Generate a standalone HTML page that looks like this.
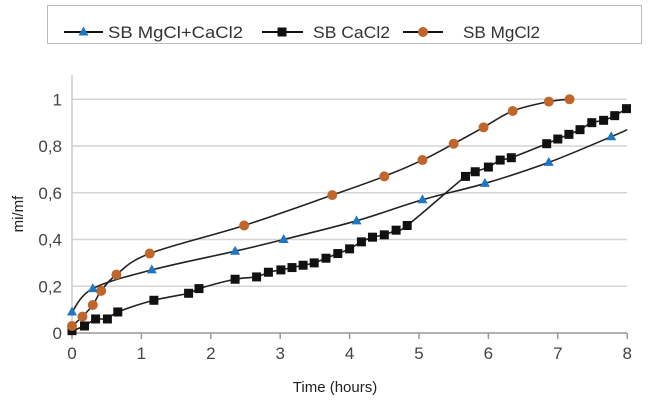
<!DOCTYPE html>
<html><head><meta charset="utf-8"><style>
html,body{margin:0;padding:0;background:#fff;}
svg{display:block;font-family:"Liberation Sans",sans-serif;}
</style></head><body>
<svg id="chart" width="650" height="401" viewBox="0 0 650 401">
<g>
<rect x="47.5" y="5.5" width="594" height="38" fill="#fff" stroke="#bbb"/>
<g>
<line x1="64" y1="32" x2="103" y2="32" stroke="#111" stroke-width="2"/>
<polygon points="83.5,26.5 88.5,35.5 78.5,35.5" fill="#1f77c4"/>
<text x="108" y="38" font-size="17" fill="#333" textLength="135" lengthAdjust="spacingAndGlyphs">SB MgCl+CaCl2</text>
</g>
<g>
<line x1="262" y1="32" x2="303" y2="32" stroke="#111" stroke-width="2"/>
<rect x="277.5" y="27.5" width="9" height="9" fill="#111"/>
<text x="313" y="38" font-size="17" fill="#333" textLength="77" lengthAdjust="spacingAndGlyphs">SB CaCl2</text>
</g>
<g>
<line x1="403" y1="32" x2="443" y2="32" stroke="#111" stroke-width="2"/>
<circle cx="423" cy="32" r="5" fill="#c0662a"/>
<text x="463" y="38" font-size="17" fill="#333" textLength="77" lengthAdjust="spacingAndGlyphs">SB MgCl2</text>
</g>
</g>
<g id="grid"></g>
<g id="axes"></g>
<g id="series"></g>
<text x="335" y="392" font-size="15" fill="#222" text-anchor="middle">Time (hours)</text>
<text transform="translate(23,214) rotate(-90)" font-size="15" fill="#222" text-anchor="middle">mi/mf</text>
</svg>
<script>
const xTicks = [0,1,2,3,4,5,6,7,8];
const yTicks = [0,0.2,0.4,0.6,0.8,1];
const yTickLabels = ["0","0,2","0,4","0,6","0,8","1"];
const mixX = [0,0.3,1.15,2.35,3.05,4.1,5.05,5.95,6.87,7.77];
const mixY = [0.09,0.19,0.27,0.35,0.40,0.48,0.57,0.64,0.73,0.84];
const mixLineEndX = 8, mixLineEndY = 0.87;
const caX = [0,0.18,0.34,0.51,0.66,1.18,1.68,1.83,2.35,2.66,2.83,3.01,3.17,3.33,3.49,3.66,3.83,4.0,4.17,4.33,4.5,4.67,4.83,5.67,5.81,6.0,6.17,6.33,6.84,7.0,7.16,7.32,7.49,7.66,7.82,7.99];
const caY = [0.01,0.03,0.06,0.06,0.09,0.14,0.17,0.19,0.23,0.24,0.26,0.27,0.28,0.29,0.30,0.32,0.34,0.36,0.39,0.41,0.42,0.44,0.46,0.67,0.69,0.71,0.74,0.75,0.81,0.83,0.85,0.87,0.90,0.91,0.93,0.96];
const mgX = [0,0.15,0.3,0.42,0.64,1.12,2.48,3.75,4.5,5.05,5.5,5.93,6.35,6.87,7.17];
const mgY = [0.03,0.07,0.12,0.18,0.25,0.34,0.46,0.59,0.67,0.74,0.81,0.88,0.95,0.99,1.0];

const NS="http://www.w3.org/2000/svg";
const sx=v=>72+v*69.4, sy=v=>333-v*233.7;
function mk(tag,attrs,parent){const e=document.createElementNS(NS,tag);for(const k in attrs)e.setAttribute(k,attrs[k]);parent.appendChild(e);return e;}
const grid=document.getElementById('grid'), axes=document.getElementById('axes'), ser=document.getElementById('series');
yTicks.forEach((t,i)=>{
  if(t>0){const l=mk('line',{x1:72,x2:627,y1:sy(t),y2:sy(t),stroke:'#d4d4d4','stroke-width':1.5},grid);
  
  }
  const tx=mk('text',{x:62,y:sy(t)+6,'font-size':17,fill:'#444','text-anchor':'end'},axes);
  tx.textContent=yTickLabels[i];
  
  
});
const ax=mk('line',{x1:72,x2:627,y1:333,y2:333,stroke:'#999','stroke-width':1.5},axes);


const yax=mk('line',{x1:72,x2:72,y1:75,y2:333,stroke:'#ccc','stroke-width':1.5},axes);


xTicks.forEach(t=>{
  const tk=mk('line',{x1:sx(t),x2:sx(t),y1:333,y2:339,stroke:'#999','stroke-width':1.5},axes);
  
  
  const tx=mk('text',{x:sx(t),y:359,'font-size':17,fill:'#444','text-anchor':'middle'},axes);
  tx.textContent=String(t);
  
  
});
function smooth(pts){let d=`M${pts[0][0]},${pts[0][1]}`;for(let i=0;i<pts.length-1;i++){const p0=pts[Math.max(0,i-1)],p1=pts[i],p2=pts[i+1],p3=pts[Math.min(pts.length-1,i+2)];const t=0.17;d+=` C${p1[0]+(p2[0]-p0[0])*t},${p1[1]+(p2[1]-p0[1])*t} ${p2[0]-(p3[0]-p1[0])*t},${p2[1]-(p3[1]-p1[1])*t} ${p2[0]},${p2[1]}`;}return d;}
function drawLine(xs,ys,name,extra){const pts=xs.map((x,i)=>[sx(x),sy(ys[i])]);if(extra)pts.push([sx(extra[0]),sy(extra[1])]);
  const p=mk('path',{d:smooth(pts),fill:'none',stroke:'#222','stroke-width':1.6},ser);
  
  }
drawLine(mixX,mixY,'line-mgcl-cacl2',[mixLineEndX,mixLineEndY]);
drawLine(caX,caY,'line-cacl2');
drawLine(mgX,mgY,'line-mgcl2');
caX.forEach((x,i)=>{const r=mk('rect',{x:sx(x)-4.5,y:sy(caY[i])-4.5,width:9,height:9,fill:'#111'},ser);
  
  });
mgX.forEach((x,i)=>{const c=mk('circle',{cx:sx(x),cy:sy(mgY[i]),r:5,fill:'#c0662a'},ser);
  
  });
mixX.forEach((x,i)=>{const X=sx(x),Y=sy(mixY[i]);const p=mk('polygon',{points:`${X},${Y-5.5} ${X+5},${Y+3.5} ${X-5},${Y+3.5}`,fill:'#1f77c4'},ser);
  
  });
</script>
</body></html>
